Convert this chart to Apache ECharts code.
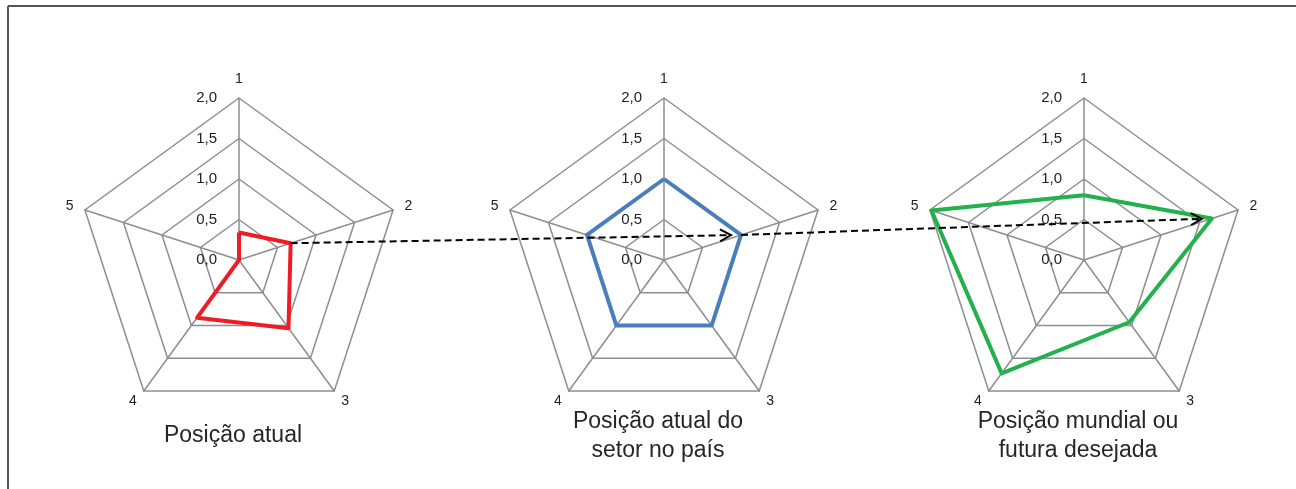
<!DOCTYPE html>
<html><head><meta charset="utf-8">
<script src="https://cdn.jsdelivr.net/npm/echarts@6/dist/echarts.min.js"></script>
<style>html,body{margin:0;padding:0;background:#fff}#c{width:1296px;height:489px}</style>
</head><body><div id="c"></div>
<script>
// ---- data ----
const indicators = ['1', '2', '3', '4', '5'];
const tickLabels = ['0,0', '0,5', '1,0', '1,5', '2,0'];
const axisMin = 0;
const axisMax = 2;
const atualValues = [0.34, 0.67, 1.04, 0.88, 0];
const setorValues = [1.0, 1.0, 1.0, 1.0, 1.0];
const mundialValues = [0.80, 1.66, 0.95, 1.73, 1.98];
const captions = ['Posição atual', 'Posição atual do\nsetor no país', 'Posição mundial ou\nfutura desejada'];
// ---- styling / layout ----
const seriesValues = [atualValues, setorValues, mundialValues];
const seriesColors = ['#ee1c25', '#4a7ebb', '#22b14c'];
const centers = [[239, 260], [664, 260], [1084, 260]];
const R = 162;
const FONT = '"Liberation Sans", Arial, sans-serif';
const gridColor = '#8e8e8e';
// ECharts radar places indicators counter-clockwise; reorder so they run clockwise (1 top, 2 right ...)
const displayOrder = [0, 4, 3, 2, 1];

const chart = echarts.init(document.getElementById('c'), null, {renderer: 'canvas'});

const radars = centers.map(c => ({
  center: c,
  radius: R,
  startAngle: 90,
  shape: 'polygon',
  splitNumber: 4,
  nameGap: 12,
  axisName: {color: '#222', fontSize: 14, fontFamily: FONT},
  indicator: displayOrder.map((k, j) => {
    const o = {name: indicators[k], min: axisMin, max: axisMax};
    if (j === 0) {
      o.axisLabel = {
        show: true, margin: 22, color: '#222', fontSize: 15, fontFamily: FONT,
        formatter: (v, idx) => tickLabels[idx] !== undefined ? tickLabels[idx] : String(v)
      };
    }
    return o;
  }),
  axisLine: {lineStyle: {color: gridColor, width: 1.5}},
  splitLine: {lineStyle: {color: gridColor, width: 1.5}},
  splitArea: {show: false},
  axisTick: {show: false},
  axisLabel: {show: false}
}));

const series = seriesValues.map((vals, i) => ({
  type: 'radar',
  radarIndex: i,
  symbol: 'none',
  silent: true,
  lineStyle: {color: seriesColors[i], width: 4},
  data: [{value: displayOrder.map(k => vals[k])}]
}));

// helper: position of a value on indicator k (clockwise from top, same geometry as radar config)
function vertex(ci, k, v) {
  const a = (90 - 72 * k) * Math.PI / 180;
  const r = (v - axisMin) / (axisMax - axisMin) * R;
  return [centers[ci][0] + r * Math.cos(a), centers[ci][1] - r * Math.sin(a)];
}

const graphics = [];
// frame
graphics.push({type: 'line', shape: {x1: 8, y1: 6, x2: 1296, y2: 6}, style: {stroke: '#555', lineWidth: 2}, z: 10});
graphics.push({type: 'line', shape: {x1: 8, y1: 6, x2: 8, y2: 489}, style: {stroke: '#555', lineWidth: 2}, z: 10});
// captions
captions.forEach((t, i) => {
  graphics.push({
    type: 'text', x: centers[i][0] - 6, y: 436, z: 10,
    style: {text: t, fill: '#262626', fontSize: 23, fontFamily: FONT, align: 'center', verticalAlign: 'middle', lineHeight: 29}
  });
});
// dashed arrows between axis-2 vertices
for (let i = 0; i < 2; i++) {
  const p0 = vertex(i, 1, seriesValues[i][1]);
  const p1full = vertex(i + 1, 1, seriesValues[i + 1][1]);
  const dx = p1full[0] - p0[0], dy = p1full[1] - p0[1];
  const L = Math.hypot(dx, dy), ux = dx / L, uy = dy / L;
  const tip = [p1full[0] - ux * 10, p1full[1] - uy * 10];
  graphics.push({type: 'line', z: 20, shape: {x1: p0[0], y1: p0[1], x2: tip[0], y2: tip[1]},
    style: {stroke: '#000', lineWidth: 2, lineDash: [7, 4]}});
  const bx = tip[0] - ux * 11, by = tip[1] - uy * 11;
  graphics.push({type: 'polyline', z: 20,
    shape: {points: [[bx - uy * 6, by + ux * 6], tip, [bx + uy * 6, by - ux * 6]]},
    style: {stroke: '#000', lineWidth: 2, fill: null}});
}

chart.setOption({
  backgroundColor: '#fff',
  animation: false,
  radar: radars,
  series: series,
  graphic: graphics
});
</script></body></html>
